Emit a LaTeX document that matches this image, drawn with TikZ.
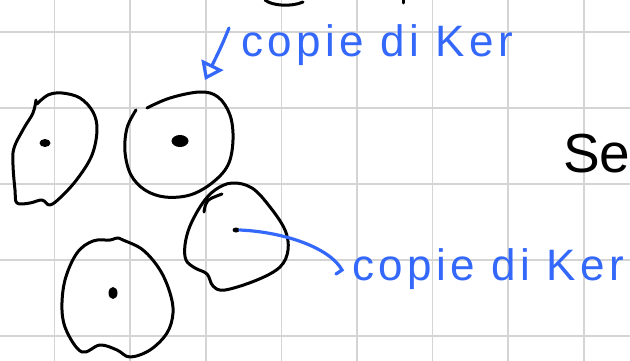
\documentclass[tikz,border=0pt]{standalone}
\usepackage{fontspec}
\setmainfont{Liberation Sans}
\newfontfamily\notefont{Liberation Sans}[LetterSpace=10]
\usepackage{tikz}
\usetikzlibrary{arrows.meta, shapes.geometric, positioning}
\definecolor{penblue}{RGB}{52,104,250}
\definecolor{gridgray}{RGB}{212,212,212}
\tikzset{
	bluetext/.style={font=\fontsize{44}{48}\selectfont\notefont\color{penblue}}
}
\tikzset{
	inktext/.style={font=\fontsize{55}{58}\selectfont\color{black}}
}

\begin{document}
\begin{tikzpicture}[x=1pt,y=-1pt]

      \tikzset{
        blobline/.style={
            draw=black,
            line width=3pt,
            line cap=round,
            line join=round
          },
        bluepen/.style={
            draw=penblue,
            line width=3.2pt,
            line cap=round
          },
        centre/.style={
            shape=ellipse,
            fill=black,
            inner sep=0pt
          }
      }

      \useasboundingbox (0,0) rectangle (630,361);
      \fill[white] (0,0) rectangle (630,361);

      \foreach \x in {54.5,130.1,205.7,281.3,356.9,432.5,508.1,583.7}
        \draw[gridgray, line width=1.6pt] (\x,0) -- (\x,361);
      \foreach \y in {32,108,184,260,336}
        \draw[gridgray, line width=1.6pt] (0,\y) -- (630,\y);

      \draw[blobline] plot[smooth, tension=0.6] coordinates {(37,104) (48,95) (62,93) (80,98) (93,112) (97,130) (92,155) (78,178) (62,196) (50,205) (42,200) (30,203) (17,203) (15,190) (13,165) (14,148) (24,128) (33,113) (36,100)};
      \draw[blobline] plot[smooth, tension=0.6] coordinates {(147,108) (170,98) (200,92) (218,97) (230,115) (233,140) (228,165) (212,183) (190,195) (165,197) (145,190) (131,175) (125,152) (127,128) (136,110)};
      \draw[blobline] plot[smooth cycle, tension=0.6] coordinates {(232,183) (252,188) (270,207) (285,230) (288,250) (280,267) (257,280) (225,290) (213,286) (207,274) (195,268) (186,260) (185,245) (190,226) (202,204) (215,190)};
      \draw[blobline] (204,212) .. controls (206,200) .. (222,194);
      \draw[blobline] plot[smooth cycle, tension=0.6] coordinates {(117,238) (123,240) (143,250) (160,270) (170,293) (173,313) (167,333) (150,350) (130,357) (117,350) (100,345) (82,352) (67,332) (62,310) (65,280) (77,253) (93,241) (110,240)};
      \draw[blobline] (265,0) .. controls (272,6) and (292,7) .. (303,2);
      \draw[blobline] (403,0) -- (403,3);

      \node[centre, minimum width=11pt, minimum height=8pt] (centreA) at (45,143) {};
      \node[centre, minimum width=17pt, minimum height=12pt] (centreB) at (180,141) {};
      \node[centre, minimum width=7pt, minimum height=5pt] (centreC) at (236,230) {};
      \node[centre, minimum width=9pt, minimum height=12pt] (centreD) at (113,293) {};

      \node[bluetext, anchor=base west, inner sep=0pt] (kerTop) at (241,57) {copie di Ker};
      \node[bluetext, anchor=base west, inner sep=0pt] (kerBottom) at (352,280) {copie di Ker};
      \node[inktext, anchor=base west, inner sep=0pt] (seText) at (563,172) {Se};

      \coordinate (kerTopTail) at (229,28);
      \coordinate (blobBTop) at (205,80);

      \draw[bluepen, -{Triangle[open, length=17pt, width=24pt]}] (kerTopTail) .. controls (222,45) .. (blobBTop);
      \draw[bluepen] (centreC.east) .. controls +(45,2) and +(-12,-22) .. ([shift={(-10,-10)}]kerBottom.base west) -- ++(-6,4);
    \end{tikzpicture}
\end{document}
